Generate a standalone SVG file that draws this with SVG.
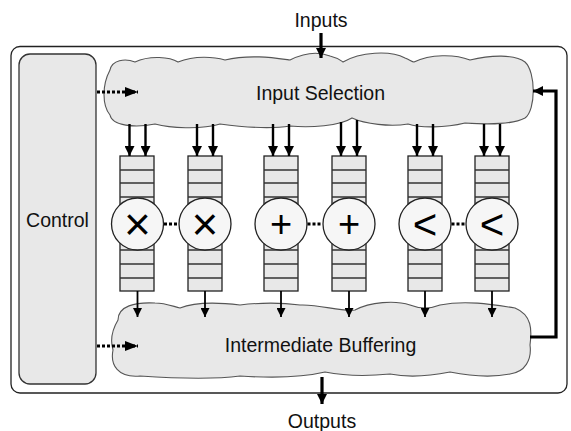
<svg xmlns="http://www.w3.org/2000/svg" width="571" height="431" viewBox="0 0 571 431">
<defs>
<style>
.lbl{font-family:"Liberation Sans",Arial,sans-serif;font-size:19.5px;fill:#111;text-anchor:middle}
.sym{font-family:"Liberation Sans",Arial,sans-serif;font-size:38px;fill:#000;text-anchor:middle}
.mul{font-size:46px}
.lt{font-size:42px}
.cloud{fill:#e8e8e8;stroke:#555;stroke-width:1.1}
.q{fill:#e8e8e8;stroke:#222;stroke-width:1.3}
.ql{stroke:#333;stroke-width:1.6}
.op{fill:#f6f6f6;stroke:#222;stroke-width:1.3}
.arrIn{stroke:#000;stroke-width:2.4;fill:none}
.arrOut{stroke:#000;stroke-width:1.8;fill:none}
.thick{stroke:#000;stroke-width:3.2;fill:none}
.dots{stroke:#000;stroke-width:3;stroke-dasharray:3 2;fill:none}
</style>
<marker id="ah" markerWidth="10" markerHeight="10" viewBox="0 0 10 10" refX="10" refY="5" orient="auto" markerUnits="userSpaceOnUse">
<path d="M0,0 L10,5 L0,10 Z" fill="#000"/>
</marker>
<marker id="ahs" markerWidth="9" markerHeight="9" viewBox="0 0 10 10" refX="10" refY="5" orient="auto" markerUnits="userSpaceOnUse">
<path d="M0,0 L10,5 L0,10 Z" fill="#000"/>
</marker>
<marker id="ahd" markerWidth="13" markerHeight="10" viewBox="0 0 13 10" refX="13" refY="5" orient="auto" markerUnits="userSpaceOnUse">
<path d="M0,0 L13,5 L0,10 Z" fill="#000"/>
</marker>
</defs>
<rect id="frame" x="11" y="46.5" width="556" height="346.5" rx="9" fill="#fff" stroke="#222" stroke-width="1.3"/>
<g id="control">
<rect x="19" y="54" width="77" height="330" rx="11" fill="#e8e8e8" stroke="#333" stroke-width="1.3"/>
<text class="lbl" x="57.5" y="227">Control</text>
</g>
<g id="input-selection">
<path class="cloud" d="M110,70 C112,60 125,58 135,62 C150,55 170,57 178,62 C195,55 215,57 225,60 C250,54 275,58 290,60 C300,55 315,50 330,56 C338,58 340,60 343,62 C360,52 390,50 405,58 C410,60 412,62 414,62 C430,54 455,54 470,60 C490,55 515,54 525,62 C536,72 536,110 525,118 C510,126 480,124 465,123 C445,128 420,128 408,124 C390,127 365,124 352,118 C340,126 310,128 290,126 C265,130 235,126 220,124 C200,130 170,128 155,124 C135,128 112,126 110,115 C102,105 102,85 110,70 Z"/>
<text class="lbl" x="320.5" y="100">Input Selection</text>
</g>
<g id="intermediate-buffering">
<path class="cloud" d="M118,320 C118,306 135,302 155,303 C165,303 172,306 180,308 C195,302 215,302 240,305 C265,302 285,303 300,305 C320,304 340,312 355,310 C370,302 395,300 410,305 C420,309 430,309 440,305 C465,300 490,304 515,308 C532,315 532,330 530,345 C532,360 525,372 510,374 C490,378 470,376 450,372 C430,376 410,378 390,374 C370,376 345,376 325,372 C300,378 270,378 240,376 C210,380 170,378 140,376 C118,378 110,365 113,350 C110,340 112,330 118,320 Z"/>
<text class="lbl" x="320.5" y="352">Intermediate Buffering</text>
</g>
<g id="unit-mul1">
<rect class="q" x="120" y="156" width="34" height="135"/>
<path class="ql" d="M120,170H154M120,183H154M120,197H154M120,250H154M120,264H154M120,278H154"/>
<circle class="op" cx="137.5" cy="224" r="26"/>
<text class="sym mul" x="137.5" y="240">×</text>
</g>
<g id="unit-mul2">
<rect class="q" x="188" y="156" width="34" height="135"/>
<path class="ql" d="M188,170H222M188,183H222M188,197H222M188,250H222M188,264H222M188,278H222"/>
<circle class="op" cx="205" cy="224" r="26"/>
<text class="sym mul" x="205" y="240">×</text>
</g>
<g id="unit-add1">
<rect class="q" x="264" y="156" width="34" height="135"/>
<path class="ql" d="M264,170H298M264,183H298M264,197H298M264,250H298M264,264H298M264,278H298"/>
<circle class="op" cx="281" cy="224" r="26"/>
<text class="sym" x="281" y="237">+</text>
</g>
<g id="unit-add2">
<rect class="q" x="332" y="156" width="34" height="135"/>
<path class="ql" d="M332,170H366M332,183H366M332,197H366M332,250H366M332,264H366M332,278H366"/>
<circle class="op" cx="349" cy="224" r="26"/>
<text class="sym" x="349" y="237">+</text>
</g>
<g id="unit-lt1">
<rect class="q" x="408" y="156" width="34" height="135"/>
<path class="ql" d="M408,170H442M408,183H442M408,197H442M408,250H442M408,264H442M408,278H442"/>
<circle class="op" cx="425" cy="224" r="26"/>
<text class="sym lt" x="425" y="238.5">&lt;</text>
</g>
<g id="unit-lt2">
<rect class="q" x="475" y="156" width="34" height="135"/>
<path class="ql" d="M475,170H509M475,183H509M475,197H509M475,250H509M475,264H509M475,278H509"/>
<circle class="op" cx="492" cy="224" r="26"/>
<text class="sym lt" x="492" y="238.5">&lt;</text>
</g>
<g id="inputs-label"><text class="lbl" x="321" y="27">Inputs</text></g>
<g id="outputs-label"><text class="lbl" x="322" y="428">Outputs</text></g>
<g id="connectors">
<line class="thick" x1="321" y1="33" x2="321" y2="58" marker-end="url(#ah)"/>
<line class="thick" x1="322" y1="377" x2="322" y2="404" marker-end="url(#ah)"/>
<polyline class="thick" points="530,337 556,337 556,91 533,91" marker-end="url(#ah)"/>
<line class="dots" x1="97" y1="92" x2="138" y2="92" marker-end="url(#ahd)"/>
<line class="dots" x1="97" y1="346" x2="138" y2="346" marker-end="url(#ahd)"/>
<line class="dots" x1="164" y1="224" x2="179" y2="224"/>
<line class="dots" x1="307.5" y1="224" x2="322.5" y2="224"/>
<line class="dots" x1="451.5" y1="224" x2="466" y2="224"/>
<g class="arrIn">
<line x1="129.5" y1="124" x2="129.5" y2="156" marker-end="url(#ah)"/>
<line x1="145.5" y1="124" x2="145.5" y2="156" marker-end="url(#ah)"/>
<line x1="197" y1="124" x2="197" y2="156" marker-end="url(#ah)"/>
<line x1="213" y1="124" x2="213" y2="156" marker-end="url(#ah)"/>
<line x1="273" y1="124" x2="273" y2="156" marker-end="url(#ah)"/>
<line x1="289" y1="124" x2="289" y2="156" marker-end="url(#ah)"/>
<line x1="341" y1="122" x2="341" y2="156" marker-end="url(#ah)"/>
<line x1="357" y1="120" x2="357" y2="156" marker-end="url(#ah)"/>
<line x1="417" y1="124" x2="417" y2="156" marker-end="url(#ah)"/>
<line x1="433" y1="124" x2="433" y2="156" marker-end="url(#ah)"/>
<line x1="484" y1="124" x2="484" y2="156" marker-end="url(#ah)"/>
<line x1="500" y1="124" x2="500" y2="156" marker-end="url(#ah)"/>
</g>
<g class="arrOut">
<line x1="137.5" y1="291" x2="137.5" y2="317" marker-end="url(#ahs)"/>
<line x1="205" y1="291" x2="205" y2="317" marker-end="url(#ahs)"/>
<line x1="281" y1="291" x2="281" y2="317" marker-end="url(#ahs)"/>
<line x1="349" y1="291" x2="349" y2="317" marker-end="url(#ahs)"/>
<line x1="425" y1="291" x2="425" y2="317" marker-end="url(#ahs)"/>
<line x1="492" y1="291" x2="492" y2="317" marker-end="url(#ahs)"/>
</g>
</g>
</svg>
